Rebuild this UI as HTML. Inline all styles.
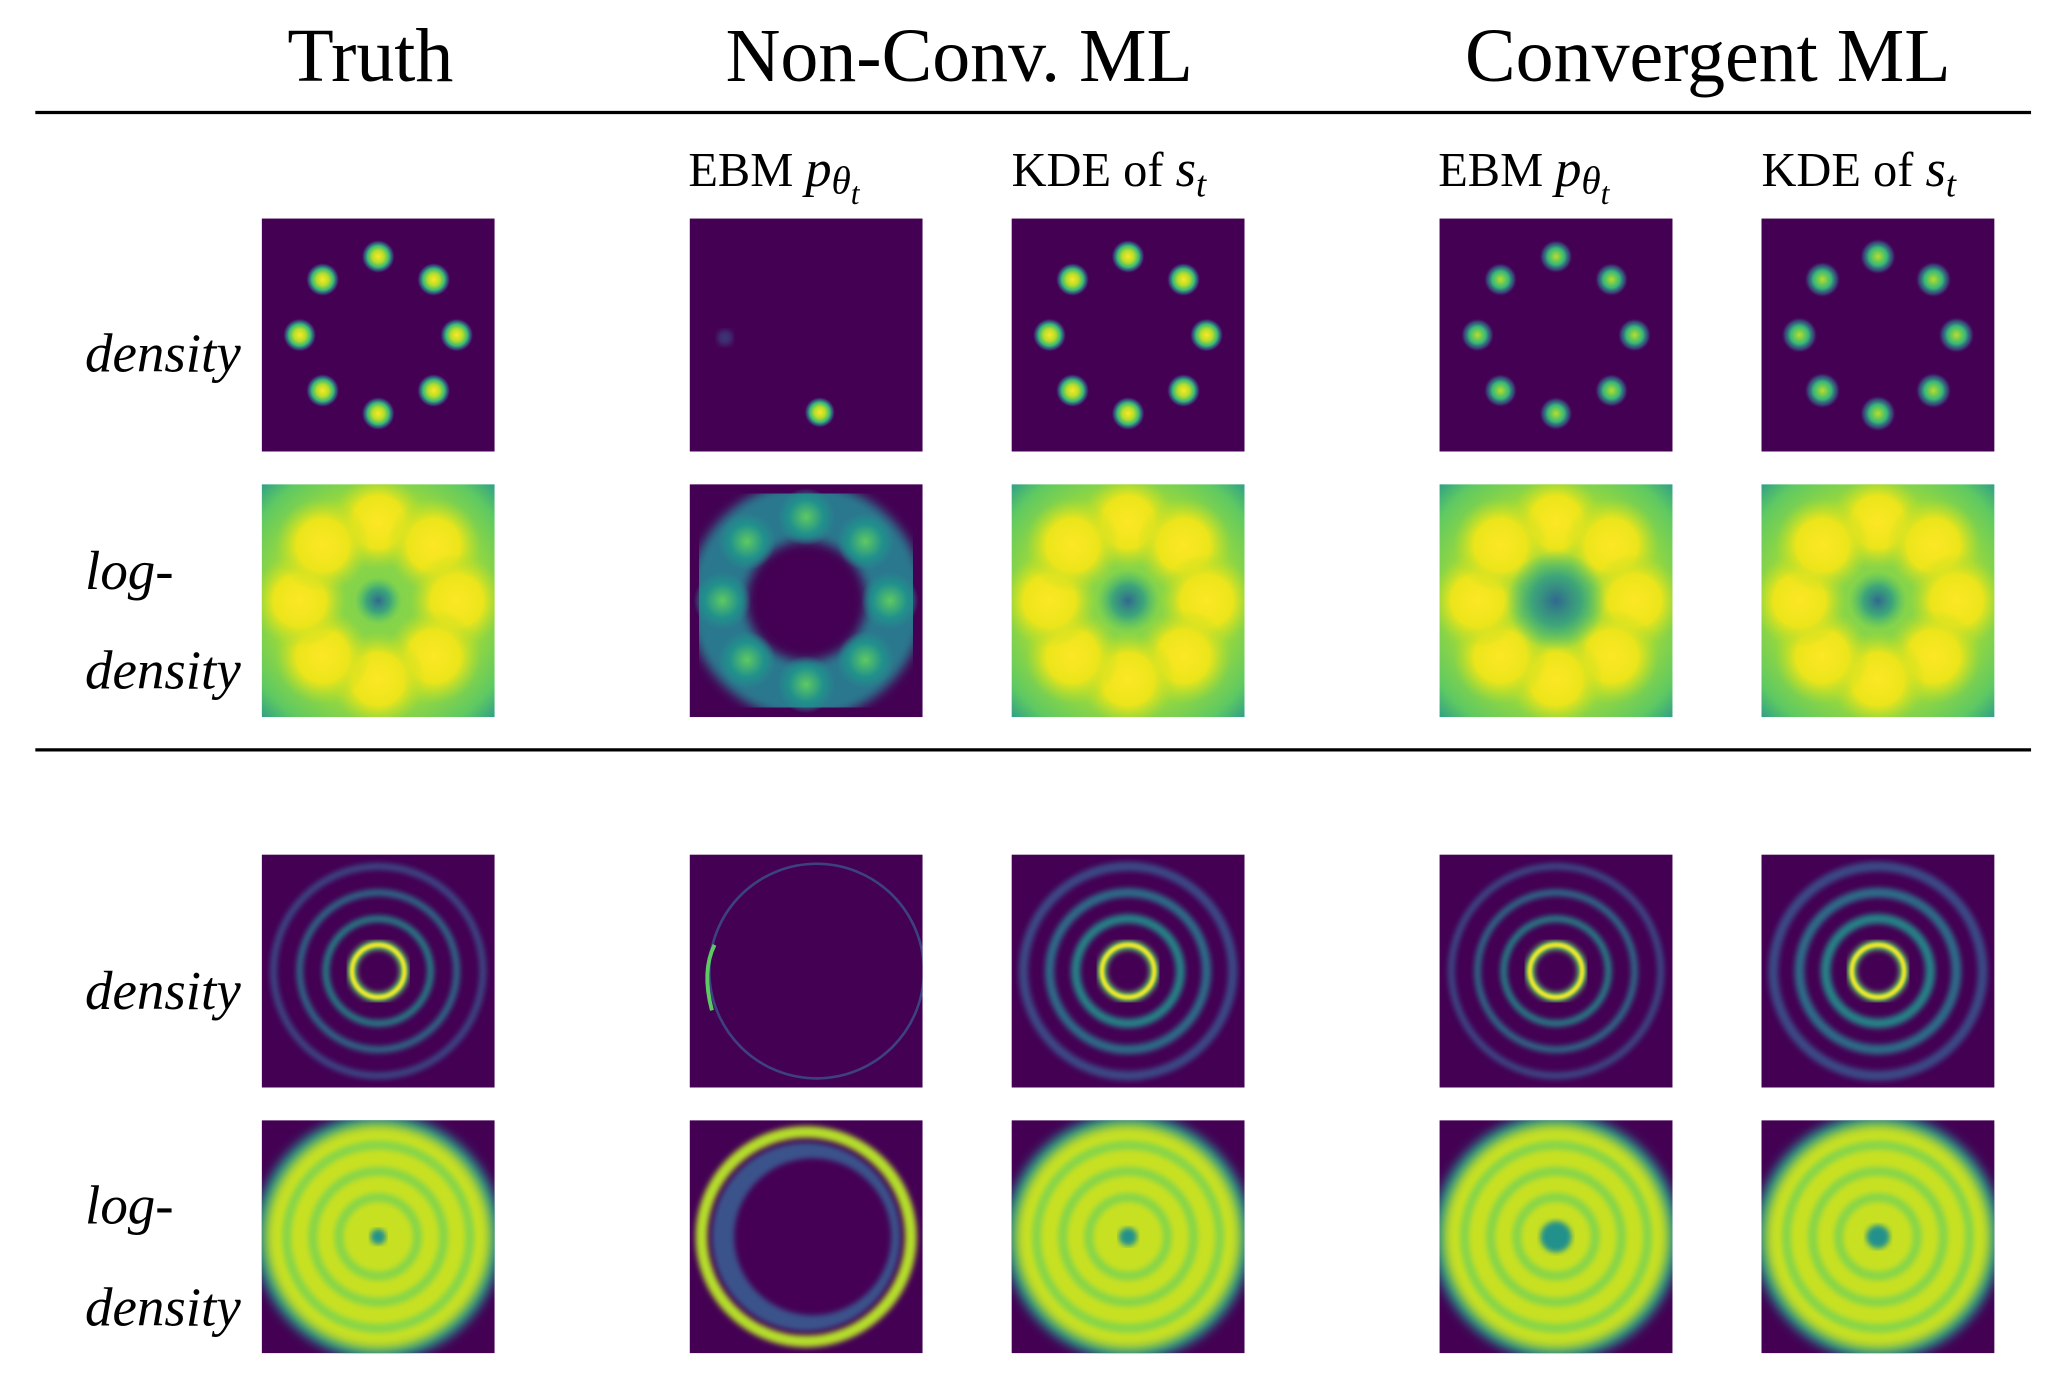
<!DOCTYPE html>
<html><head><meta charset="utf-8"><style>
html,body{margin:0;padding:0;background:#fff;}
svg{display:block;}
text{font-family:"Liberation Serif",serif;fill:#000;}
</style></head><body>
<svg id="fig" width="2052" height="1382" viewBox="0 0 1568 1056" preserveAspectRatio="none" xmlns="http://www.w3.org/2000/svg">
<defs>
<radialGradient id="blob"><stop offset="0" stop-color="#fde725"/><stop offset="0.35" stop-color="#b5de2b"/><stop offset="0.65" stop-color="#35b779"/><stop offset="0.85" stop-color="#31688e" stop-opacity="0.6"/><stop offset="1" stop-color="#440154" stop-opacity="0"/></radialGradient>
<radialGradient id="blobSoft"><stop offset="0" stop-color="#b5de2b"/><stop offset="0.5" stop-color="#35b779"/><stop offset="0.8" stop-color="#31688e" stop-opacity="0.6"/><stop offset="1" stop-color="#440154" stop-opacity="0"/></radialGradient>
<radialGradient id="logBlob"><stop offset="0" stop-color="#fde725"/><stop offset="0.55" stop-color="#ece51b"/><stop offset="1" stop-color="#b5de2b" stop-opacity="0"/></radialGradient>
<radialGradient id="logBg" r="0.72"><stop offset="0" stop-color="#7ad151"/><stop offset="0.6" stop-color="#a0da39"/><stop offset="0.85" stop-color="#5ec962"/><stop offset="1" stop-color="#2a9a8a"/></radialGradient>
<radialGradient id="logCenter"><stop offset="0" stop-color="#31688e"/><stop offset="0.5" stop-color="#21918c" stop-opacity="0.7"/><stop offset="1" stop-color="#35b779" stop-opacity="0"/></radialGradient>
<radialGradient id="ncBlob"><stop offset="0" stop-color="#5ec962"/><stop offset="0.6" stop-color="#21918c"/><stop offset="1" stop-color="#21918c" stop-opacity="0"/></radialGradient>
<filter id="blur1"><feGaussianBlur stdDeviation="1"/></filter>
<filter id="blur2"><feGaussianBlur stdDeviation="2"/></filter>
<filter id="blur4"><feGaussianBlur stdDeviation="4"/></filter>
</defs>
<text x="283" y="62" font-size="58" text-anchor="middle">Truth</text>
<text x="733" y="62" font-size="58" text-anchor="middle">Non-Conv. ML</text>
<text x="1305" y="62" font-size="58" text-anchor="middle">Convergent ML</text>
<line x1="27" y1="86" x2="1552" y2="86" stroke="#000" stroke-width="2.5"/>
<line x1="27" y1="573" x2="1552" y2="573" stroke="#000" stroke-width="2.5"/>
<g font-size="37">
<text x="526" y="142">EBM <tspan font-style="italic" font-size="40">p</tspan><tspan font-style="italic" font-size="30" dy="6">θ</tspan><tspan font-style="italic" font-size="24" dy="8">t</tspan></text>
<text x="773" y="142">KDE of <tspan font-style="italic" font-size="40">s</tspan><tspan font-style="italic" font-size="28" dy="8">t</tspan></text>
<text x="1099" y="142">EBM <tspan font-style="italic" font-size="40">p</tspan><tspan font-style="italic" font-size="30" dy="6">θ</tspan><tspan font-style="italic" font-size="24" dy="8">t</tspan></text>
<text x="1346" y="142">KDE of <tspan font-style="italic" font-size="40">s</tspan><tspan font-style="italic" font-size="28" dy="8">t</tspan></text>
</g>
<g font-size="42" font-style="italic">
<text x="65" y="284">density</text>
<text x="65" y="450">log-</text>
<text x="65" y="526">density</text>
<text x="65" y="771">density</text>
<text x="65" y="935">log-</text>
<text x="65" y="1013">density</text>
</g>
<g id="panels"></g>
</svg>
<script>
const modeAngles=[0,45,90,135,180,225,270,315];
const modeRadius=60;
const ringRadii=[20,40,60,80];
const ringColors=["#fde725","#21918c","#2a788e","#3b528b"];
const colX=[200,527,773,1100,1346];
const rowY=[167,370,653,856];
const S=178;
const NS="http://www.w3.org/2000/svg";
const root=document.getElementById('panels');
function el(tag,attrs,parent){const e=document.createElementNS(NS,tag);for(const k in attrs)e.setAttribute(k,attrs[k]);parent.appendChild(e);return e;}
let clipId=0;
function panel(c,r,name){
  const x=colX[c],y=rowY[r];
  const cp=el('clipPath',{id:'cp'+clipId},root);
  el('rect',{x:x,y:y,width:S,height:S},cp);
  const g=el('g',{'clip-path':'url(#cp'+clipId+')'},root);
  clipId++;
  
  
  return {g:g,cx:x+S/2,cy:y+S/2,x:x,y:y};
}
function modePos(p,a,rad){const t=a*Math.PI/180;return [p.cx+rad*Math.sin(t),p.cy-rad*Math.cos(t)];}
function densityGauss(c,name,grad,size){
  const p=panel(c,0,name);
  el('rect',{x:p.x,y:p.y,width:S,height:S,fill:'#440154'},p.g);
  modeAngles.forEach(a=>{const [mx,my]=modePos(p,a,modeRadius);el('circle',{cx:mx,cy:my,r:size,fill:'url(#'+grad+')'},p.g);});
}
function logGauss(c,name,center){
  const p=panel(c,1,name);
  el('rect',{x:p.x,y:p.y,width:S,height:S,fill:'url(#logBg)'},p.g);
  modeAngles.forEach(a=>{const [mx,my]=modePos(p,a,modeRadius);el('circle',{cx:mx,cy:my,r:36,fill:'url(#logBlob)'},p.g);});
  el('circle',{cx:p.cx,cy:p.cy,r:center,fill:'url(#logCenter)'},p.g);
}
densityGauss(0,'truth-density-gauss','blob',13);
(function(){const p=panel(1,0,'nonconv-ebm-density-gauss');
  el('rect',{x:p.x,y:p.y,width:S,height:S,fill:'#440154'},p.g);
  el('circle',{cx:p.cx-62,cy:p.cy+2,r:6,fill:'#3b528b',opacity:0.6,filter:'url(#blur2)'},p.g);
  const [bx,by]=modePos(p,170,modeRadius);el('circle',{cx:bx,cy:by,r:12,fill:'url(#blob)'},p.g);
})();
densityGauss(2,'nonconv-kde-density-gauss','blob',13);
densityGauss(3,'conv-ebm-density-gauss','blobSoft',13);
densityGauss(4,'conv-kde-density-gauss','blobSoft',14);
logGauss(0,'truth-logdensity-gauss',18);
(function(){const p=panel(1,1,'nonconv-ebm-logdensity-gauss');
  el('rect',{x:p.x,y:p.y,width:S,height:S,fill:'#440154'},p.g);
  el('circle',{cx:p.cx,cy:p.cy,r:68,fill:'none',stroke:'#2a788e',"stroke-width":44,filter:'url(#blur4)'},p.g);
  modeAngles.forEach(a=>{const [mx,my]=modePos(p,a,modeRadius+4);el('circle',{cx:mx,cy:my,r:22,fill:'url(#ncBlob)'},p.g);});
  el('circle',{cx:p.cx,cy:p.cy,r:32,fill:'#440154',filter:'url(#blur4)'},p.g);
})();
logGauss(2,'nonconv-kde-logdensity-gauss',24);
logGauss(3,'conv-ebm-logdensity-gauss',38);
logGauss(4,'conv-kde-logdensity-gauss',22);
function ringDensity(c,name,scale){
  const p=panel(c,2,name);
  el('rect',{x:p.x,y:p.y,width:S,height:S,fill:'#440154'},p.g);
  ringRadii.forEach((rr,i)=>{
    if(i===0){
      el('circle',{cx:p.cx,cy:p.cy,r:rr,fill:'none',stroke:'#5ec962',"stroke-width":7,filter:'url(#blur2)'},p.g);
      el('circle',{cx:p.cx,cy:p.cy,r:rr,fill:'none',stroke:ringColors[0],"stroke-width":3,filter:'url(#blur1)'},p.g);
    } else {
      el('circle',{cx:p.cx,cy:p.cy,r:rr,fill:'none',stroke:ringColors[i],"stroke-width":5*scale,opacity:0.9,filter:'url(#blur2)'},p.g);
    }
  });
}
ringDensity(0,'truth-density-rings',1);
(function(){const p=panel(1,2,'nonconv-ebm-density-rings');
  el('rect',{x:p.x,y:p.y,width:S,height:S,fill:'#440154'},p.g);
  el('circle',{cx:p.cx+8,cy:p.cy,r:82,fill:'none',stroke:'#3b528b',"stroke-width":2,opacity:0.8},p.g);
  el('path',{d:'M'+(p.cx-70)+' '+(p.cy-20)+' Q'+(p.cx-80)+' '+p.cy+' '+(p.cx-72)+' '+(p.cy+30),fill:'none',stroke:'#5ec962',"stroke-width":3},p.g);
})();
ringDensity(2,'nonconv-kde-density-rings',1.4);
ringDensity(3,'conv-ebm-density-rings',1);
ringDensity(4,'conv-kde-density-rings',1.5);
function ringLog(c,name,spot){
  const p=panel(c,3,name);
  el('rect',{x:p.x,y:p.y,width:S,height:S,fill:'#440154'},p.g);
  el('circle',{cx:p.cx,cy:p.cy,r:94,fill:'#21918c',filter:'url(#blur4)'},p.g);
  el('circle',{cx:p.cx,cy:p.cy,r:86,fill:'#c8e020',filter:'url(#blur4)'},p.g);
  [30,50,70].forEach(rr=>el('circle',{cx:p.cx,cy:p.cy,r:rr,fill:'none',stroke:'#86d549',"stroke-width":7,filter:'url(#blur2)'},p.g));
  el('circle',{cx:p.cx,cy:p.cy,r:spot,fill:'#21918c',filter:'url(#blur2)'},p.g);
}
ringLog(0,'truth-logdensity-rings',6);
(function(){const p=panel(1,3,'nonconv-ebm-logdensity-rings');
  el('rect',{x:p.x,y:p.y,width:S,height:S,fill:'#440154'},p.g);
  el('circle',{cx:p.cx,cy:p.cy,r:72,fill:'#3b528b',filter:'url(#blur2)'},p.g);
  el('circle',{cx:p.cx,cy:p.cy,r:80,fill:'none',stroke:'#b5de2b',"stroke-width":9,filter:'url(#blur2)'},p.g);
  el('circle',{cx:p.cx+5,cy:p.cy,r:60,fill:'#440154',filter:'url(#blur2)'},p.g);
})();
ringLog(2,'nonconv-kde-logdensity-rings',7);
ringLog(3,'conv-ebm-logdensity-rings',12);
ringLog(4,'conv-kde-logdensity-rings',9);
</script>
</body></html>
